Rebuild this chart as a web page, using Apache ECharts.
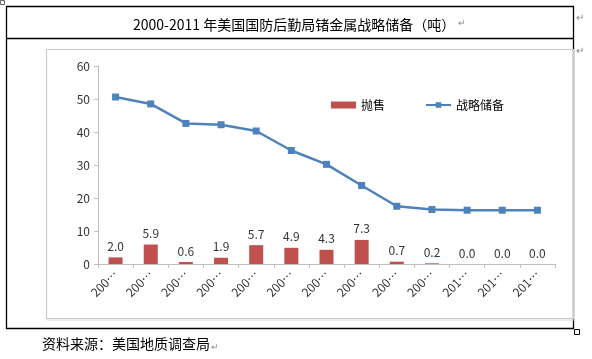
<!DOCTYPE html>
<html>
<head>
<meta charset="utf-8">
<script src="https://cdn.jsdelivr.net/npm/echarts@6/dist/echarts.min.js"></script>
<style>html,body{margin:0;padding:0;background:#fff}#c{width:592px;height:359px}</style>
</head>
<body>
<div id="c"></div>
<script>
var categories = ['2000年','2001年','2002年','2003年','2004年','2005年','2006年','2007年','2008年','2009年','2010年','2011年','2012年'];
var salesValues = [2.0, 5.9, 0.6, 1.9, 5.7, 4.9, 4.3, 7.3, 0.7, 0.2, 0.0, 0.0, 0.0];
var reserveValues = [50.6, 48.5, 42.6, 42.2, 40.3, 34.4, 30.2, 23.8, 17.5, 16.5, 16.3, 16.3, 16.3];
var yTicks = [0, 10, 20, 30, 40, 50, 60];
var titleText = '2000-2011 年美国国防后勤局锗金属战略储备（吨）';
var sourceText = '资料来源：美国地质调查局';

var chart = echarts.init(document.getElementById('c'));
var font = '"Noto Sans CJK SC", "Liberation Sans", sans-serif';
chart.setOption({
  animation: false,
  textStyle: {fontFamily: font},
  title: {
    text: titleText, left: 128, top: 13,
    textStyle: {fontSize: 14, fontWeight: 'normal', color: '#000', fontFamily: font}
  },
  graphic: [
    {type: 'rect', shape: {x: 6.5, y: 6.5, width: 567, height: 322}, style: {fill: 'none', stroke: '#000', lineWidth: 1.3}, silent: true},
    {type: 'line', shape: {x1: 6.5, y1: 38.5, x2: 573.5, y2: 38.5}, style: {stroke: '#000', lineWidth: 1.3}},
    {type: 'rect', shape: {x: 46.5, y: 49.5, width: 527, height: 269}, style: {fill: 'none', stroke: '#c8c8c8', lineWidth: 1.2}},
    {type: 'line', shape: {x1: 47, y1: 320, x2: 574, y2: 320}, style: {stroke: '#d8d8d8', lineWidth: 1}},
    {type: 'rect', shape: {x: 574.5, y: 329.5, width: 5, height: 5}, style: {fill: '#fff', stroke: '#000', lineWidth: 1}},
    {type: 'rect', shape: {x: 0.5, y: 0.5, width: 4, height: 4}, style: {fill: '#fff', stroke: '#666', lineWidth: 1}},
    {type: 'text', left: 458, top: 18, style: {text: '↵', fontSize: 9, fill: '#888', fontFamily: font}},
    {type: 'text', left: 576, top: 12, style: {text: '↵', fontSize: 10, fill: '#888', fontFamily: font}},
    {type: 'text', left: 576, top: 45, style: {text: '↵', fontSize: 10, fill: '#888', fontFamily: font}},
    {type: 'text', left: 42, top: 337, style: {text: sourceText, fontSize: 14, fill: '#000', fontFamily: font}},
    {type: 'text', left: 211, top: 342, style: {text: '↵', fontSize: 9, fill: '#888', fontFamily: font}}
  ],
  legend: {
    left: 326, top: 94, itemGap: 40, itemWidth: 25, itemHeight: 7,
    textStyle: {fontSize: 12, color: '#000', fontFamily: font},
    data: [{name: '抛售', icon: 'rect'}, {name: '战略储备'}]
  },
  grid: {left: 98, right: 37, top: 66, bottom: 95, containLabel: false},
  xAxis: {
    type: 'category', data: categories,
    axisLine: {lineStyle: {color: '#bfbfbf'}},
    axisTick: {show: true, length: 4, lineStyle: {color: '#bfbfbf'}},
    axisLabel: {rotate: 45, fontSize: 12, color: '#333', margin: 8,
      formatter: function (v) { return v.slice(0, 3) + '…'; }}
  },
  yAxis: {
    type: 'value', min: yTicks[0], max: yTicks[yTicks.length - 1], interval: 10,
    splitLine: {show: false},
    axisLine: {show: true, lineStyle: {color: '#bfbfbf'}},
    axisTick: {show: true, length: 4, lineStyle: {color: '#bfbfbf'}},
    axisLabel: {fontSize: 12, color: '#333', margin: 8}
  },
  series: [
    {name: '抛售', type: 'bar', data: salesValues, barWidth: 14,
      itemStyle: {color: '#c0504d'},
      label: {show: true, position: 'top', distance: 5, fontSize: 12, color: '#333',
        formatter: function (p) { return p.value.toFixed(1); }}},
    {name: '战略储备', type: 'line', data: reserveValues, symbol: 'rect', symbolSize: 7,
      lineStyle: {color: '#4f81bd', width: 2.5}, itemStyle: {color: '#4f81bd'}}
  ]
});
</script>
</body>
</html>
